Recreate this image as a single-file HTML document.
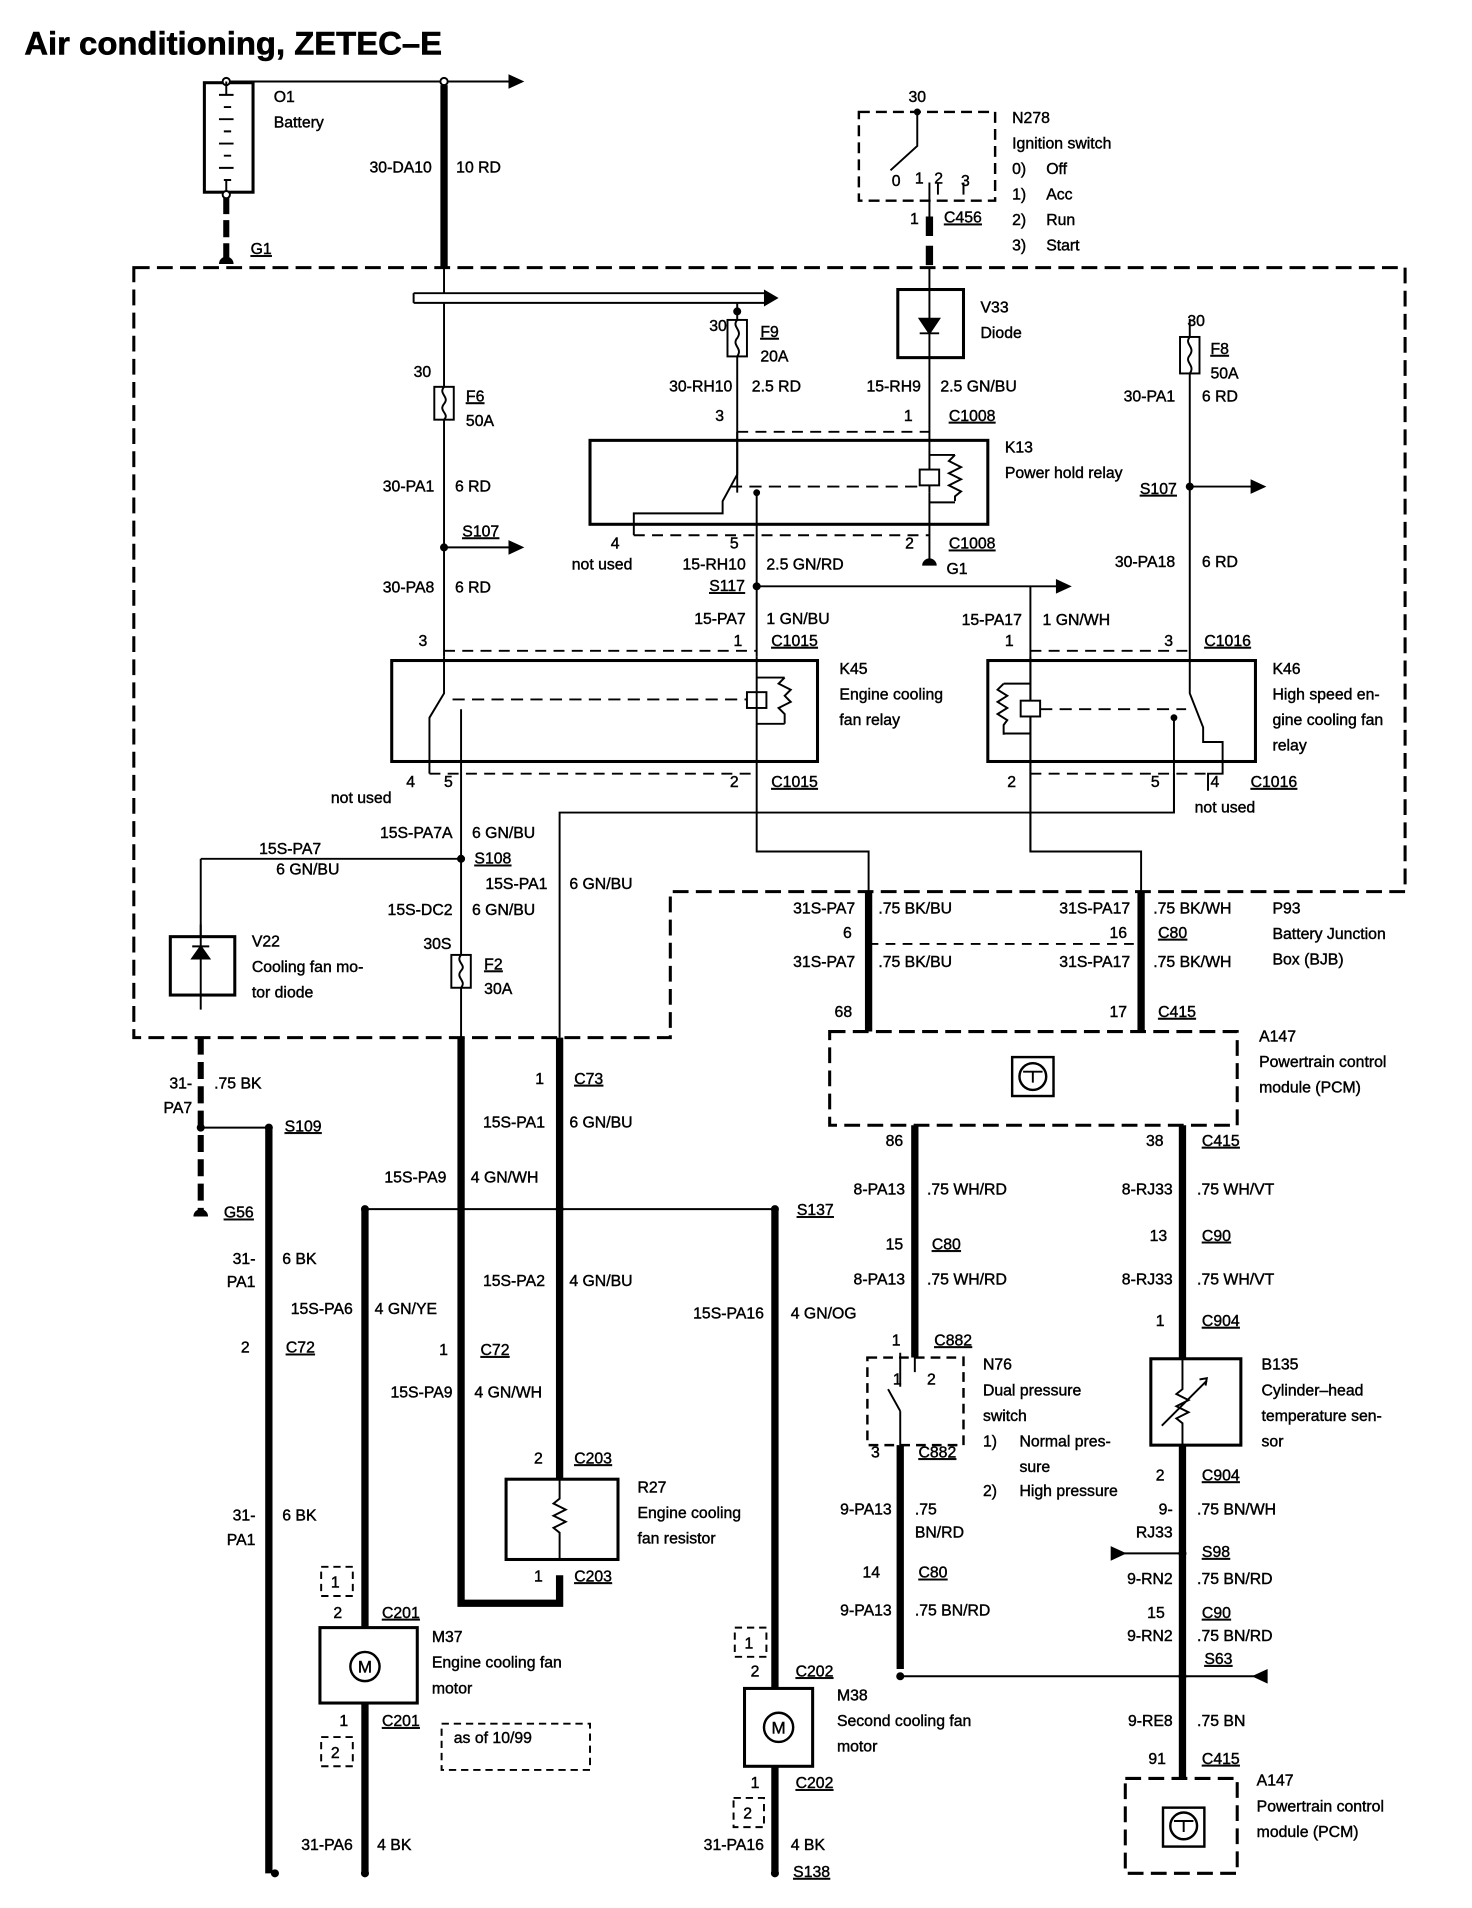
<!DOCTYPE html>
<html><head><meta charset="utf-8"><style>
html,body{margin:0;padding:0;background:#fff;}
svg{display:block}
text{font-family:"Liberation Sans",sans-serif;font-size:13px;fill:#000;stroke:#000;stroke-width:0.35}
.e{text-anchor:end}
</style></head><body>
<svg width="1472" height="1908" viewBox="0 0 1210 1568.5" preserveAspectRatio="none" xmlns="http://www.w3.org/2000/svg">
<text x="20" y="45" style="font-size:27px;font-weight:bold;stroke-width:0.5">Air conditioning, ZETEC–E</text>

<g fill="none" stroke="#000" stroke-width="1.6">
<rect x="168" y="68" width="40" height="90" stroke-width="2.5"/>
<line x1="186" y1="67" x2="420" y2="67"/>
<circle cx="186" cy="67" r="3" fill="#fff"/>
<circle cx="365" cy="67" r="3" fill="#fff"/>
<path d="M180 78h12M184 88h6M180 98h12M184 108h6M180 118h12M184 128h6M180 138h12M184 148h6M186 67v11M186 148v10" />
<line x1="186" y1="162" x2="186" y2="212" stroke-width="5" stroke-dasharray="14 5"/>
<circle cx="186" cy="160" r="3" fill="#fff"/>
<line x1="365" y1="70" x2="365" y2="220" stroke-width="6"/>
<path d="M110 220H1155V733H551V853H110Z" stroke-width="2.5" stroke-dasharray="13 6"/>
<path d="M340 241H630M340 249H630M340 241V249" stroke-width="1.6"/>
<line x1="365" y1="220" x2="365" y2="241"/>
<line x1="365" y1="249" x2="365" y2="540"/>
<rect x="357" y="318" width="16" height="27" fill="#fff"/>
<path d="M365 318c-5 6 5 8 0 14c-5 6 5 8 0 13"/>
<line x1="365" y1="450" x2="420" y2="450"/>
<circle cx="365" cy="450" r="2.5" fill="#000"/>
<line x1="606" y1="249" x2="606" y2="405"/>
<rect x="598" y="263" width="16" height="30" fill="#fff"/>
<path d="M606 263c-5 6 5 8 0 15c-5 6 5 8 0 15"/>
<circle cx="606" cy="256" r="2.5" fill="#000"/>
<rect x="706" y="92" width="112" height="73" stroke-dasharray="9 5" stroke-width="2"/>
<path d="M754 90V120L732 140"/>
<circle cx="754" cy="92" r="2" fill="#000"/>
<path d="M764 150V178M771 150V160M792 150V160" />
<line x1="764" y1="178" x2="764" y2="220" stroke-width="6" stroke-dasharray="16 8"/>
<line x1="764" y1="220" x2="764" y2="405"/>
<rect x="738" y="238" width="54" height="56" stroke-width="2.5" fill="#fff"/>
<line x1="764" y1="238" x2="764" y2="294"/>
<path d="M756 262h16l-8 12zM756 274h16" fill="#000"/>
<rect x="485" y="362" width="327" height="69" stroke-width="2.5"/>
<path d="M606 355h158" stroke-dasharray="9 6"/>
<path d="M606 355V390L594 412V422H521V440"/>
<path d="M521 440h243" stroke-dasharray="9 6"/>
<line x1="622" y1="405" x2="622" y2="540"/>
<circle cx="622" cy="405" r="2" fill="#000"/>
<path d="M600 400H756" stroke-dasharray="10 6"/>
<rect x="756" y="386" width="16" height="13" fill="#fff"/>
<path d="M764 374H785M764 413H785M785 374l-5 5l10 5l-10 5l10 5l-10 5l10 5l-5 4v4"/>
<line x1="764" y1="405" x2="764" y2="460"/>
<line x1="622" y1="482" x2="870" y2="482"/>
<circle cx="622" cy="482" r="2.5" fill="#000"/>
<line x1="847" y1="482" x2="847" y2="700"/>
<rect x="322" y="543" width="350" height="83" stroke-width="2.5"/>
<path d="M365 535H622M353 636H622" stroke-dasharray="9 6"/>
<path d="M365 540V570L353 590V636"/>
<line x1="379" y1="583" x2="379" y2="853"/>
<path d="M372 575H615" stroke-dasharray="10 6"/>
<rect x="614" y="569" width="16" height="13" fill="#fff"/>
<path d="M622 540V668M622 557H645M622 595H645M645 557l-5 5l10 5l-5 5l5 5l-10 5l5 5v8"/>
<path d="M622 668V700H714V733"/>
<rect x="812" y="543" width="220" height="83" stroke-width="2.5"/>
<path d="M847 535H978M847 636H993" stroke-dasharray="9 6"/>
<line x1="847" y1="540" x2="847" y2="636"/>
<path d="M847 562H825M847 603H825M825 562l-5 5l8 5l-8 5l8 5l-8 5l8 5l-3 4v8"/>
<rect x="839" y="576" width="16" height="13" fill="#fff"/>
<path d="M855 583H975" stroke-dasharray="10 6"/>
<path d="M978 262V540M978 540V570L989 598V610H1005V636H993V650"/>
<line x1="965" y1="590" x2="965" y2="668"/>
<circle cx="965" cy="590" r="2" fill="#000"/>
<rect x="970" y="277" width="16" height="30" fill="#fff"/>
<path d="M978 277c-5 6 5 8 0 15c-5 6 5 8 0 15"/>
<line x1="978" y1="400" x2="1030" y2="400"/>
<circle cx="978" cy="400" r="2.5" fill="#000"/>
<path d="M847 636V700H938V733"/>
<path d="M965 636V668H460V853"/>
<path d="M165 706H379M165 706V770"/>
<circle cx="379" cy="706" r="2.5" fill="#000"/>
<rect x="140" y="770" width="53" height="48" stroke-width="2.5"/>
<path d="M165 760V830M158 788h14l-7 -10zM158 778h14" fill="#000"/>
<rect x="371" y="785" width="16" height="27" fill="#fff"/>
<path d="M379 785c-5 6 5 8 0 13c-5 6 5 8 0 14"/>
<path d="M379 853V1318H460V1295" stroke-width="6"/>
<line x1="460" y1="853" x2="460" y2="1216" stroke-width="6"/>
<rect x="416" y="1216" width="92" height="66" stroke-width="2.5" fill="#fff"/>
<path d="M460 1216V1232l-5 4l10 5l-10 5l10 5l-10 5l5 4V1282"/>
<line x1="165" y1="853" x2="165" y2="995" stroke-width="5" stroke-dasharray="14 6"/>
<line x1="165" y1="927" x2="221" y2="927"/>
<circle cx="165" cy="927" r="2.5" fill="#000"/>
<circle cx="221" cy="927" r="2.5" fill="#000"/>
<line x1="221" y1="927" x2="221" y2="1540" stroke-width="6"/>
<line x1="300" y1="994" x2="637" y2="994"/>
<circle cx="300" cy="994" r="2.5" fill="#000"/>
<circle cx="460" cy="994" r="2.5" fill="#000"/>
<circle cx="637" cy="994" r="2.5" fill="#000"/>
<line x1="300" y1="994" x2="300" y2="1540" stroke-width="6"/>
<line x1="637" y1="994" x2="637" y2="1540" stroke-width="6"/>
<circle cx="226" cy="1540" r="2.5" fill="#000"/>
<circle cx="300" cy="1540" r="2.5" fill="#000"/>
<circle cx="637" cy="1540" r="2.5" fill="#000"/>
<rect x="263" y="1338" width="80" height="62" stroke-width="2.5" fill="#fff"/>
<circle cx="300" cy="1370" r="12" stroke-width="2"/>
<rect x="612" y="1388" width="56" height="64" stroke-width="2.5" fill="#fff"/>
<circle cx="640" cy="1420" r="12" stroke-width="2"/>
<g stroke-dasharray="6 4">
<rect x="264" y="1288" width="26" height="24"/>
<rect x="264" y="1428" width="26" height="24"/>
<rect x="604" y="1338" width="26" height="24"/>
<rect x="603" y="1478" width="25" height="24"/>
<rect x="363" y="1417" width="122" height="38"/>
</g>
<line x1="714" y1="733" x2="714" y2="848" stroke-width="6"/>
<line x1="938" y1="733" x2="938" y2="848" stroke-width="6"/>
<line x1="714" y1="776" x2="938" y2="776" stroke-dasharray="8 6"/>
<rect x="682" y="848" width="335" height="77" stroke-width="2.5" stroke-dasharray="13 6"/>
<rect x="832" y="869" width="34" height="32" stroke-width="2"/>
<circle cx="849" cy="885" r="11" stroke-width="2"/>
<path d="M841 881h16M849 881v9"/>
<line x1="752" y1="925" x2="752" y2="1116" stroke-width="6"/>
<line x1="972" y1="925" x2="972" y2="1117" stroke-width="6"/>
<rect x="713" y="1116" width="79" height="72" stroke-dasharray="8 5" stroke-width="2"/>
<path d="M740 1112V1140M740 1160L730 1142M740 1160V1188M752 1116V1128"/>
<line x1="740" y1="1188" x2="740" y2="1372" stroke-width="6"/>
<rect x="946" y="1117" width="74" height="71" stroke-width="2.5"/>
<path d="M972 1117V1142l-5 4l10 5l-10 5l10 5l-10 5l5 4V1188M955 1172L992 1135"/>
<path d="M986 1134l6 -1l-1 6" />
<line x1="972" y1="1188" x2="972" y2="1462" stroke-width="6"/>
<line x1="740" y1="1378" x2="1035" y2="1378"/>
<circle cx="740" cy="1378" r="2.5" fill="#000"/>
<circle cx="972" cy="1378" r="2.5" fill="#000"/>
<line x1="920" y1="1277" x2="972" y2="1277"/>
<circle cx="972" cy="1277" r="2.5" fill="#000"/>
<rect x="925" y="1462" width="92" height="78" stroke-width="2.5" stroke-dasharray="13 6"/>
<rect x="956" y="1486" width="34" height="32" stroke-width="2"/>
<circle cx="973" cy="1501" r="11" stroke-width="2"/>
<path d="M965 1497h16M973 1497v9"/>
</g>
<g fill="#000">
<path d="M418 61L431 67L418 73Z"/>
<path d="M628 238L640 245L628 252Z"/>
<path d="M418 444L431 450L418 456Z"/>
<path d="M868 476L881 482L868 488Z"/>
<path d="M1028 394L1041 400L1028 406Z"/>
<path d="M913 1271L926 1277L913 1283Z"/>
<path d="M1042 1372L1029 1378L1042 1384Z"/>
<path d="M180 217a6 6 0 0 1 12 0Z"/>
<path d="M758 465a6 6 0 0 1 12 0Z"/>
<path d="M159 1000a6 6 0 0 1 12 0Z"/>
</g>

<text x="225" y="84">O1</text><text x="225" y="105">Battery</text>
<text x="206" y="209" style="text-decoration:underline">G1</text>
<text x="355" y="142" class="e">30-DA10</text><text x="375" y="142">10 RD</text>
<text x="754" y="84" style="text-anchor:middle">30</text>
<text x="733" y="153">0</text><text x="752" y="151">1</text><text x="768" y="151">2</text><text x="790" y="153">3</text>
<text x="832" y="101">N278</text><text x="832" y="122">Ignition switch</text>
<text x="832" y="143">0)</text><text x="860" y="143">Off</text>
<text x="832" y="164">1)</text><text x="860" y="164">Acc</text>
<text x="832" y="185">2)</text><text x="860" y="185">Run</text>
<text x="832" y="206">3)</text><text x="860" y="206">Start</text>
<text x="748" y="184">1</text><text x="776" y="183" style="text-decoration:underline">C456</text>
<text x="806" y="257">V33</text><text x="806" y="278">Diode</text>
<text x="583" y="272">30</text><text x="625" y="277" style="text-decoration:underline">F9</text><text x="625" y="297">20A</text>
<text x="340" y="310">30</text><text x="383" y="330" style="text-decoration:underline">F6</text><text x="383" y="350">50A</text>
<text x="602" y="322" class="e">30-RH10</text><text x="618" y="322">2.5 RD</text>
<text x="757" y="322" class="e">15-RH9</text><text x="773" y="322">2.5 GN/BU</text>
<text x="588" y="346">3</text><text x="743" y="346">1</text><text x="780" y="346" style="text-decoration:underline">C1008</text>
<text x="826" y="372">K13</text><text x="826" y="393">Power hold relay</text>
<text x="357" y="404" class="e">30-PA1</text><text x="374" y="404">6 RD</text>
<text x="380" y="441" style="text-decoration:underline">S107</text>
<text x="502" y="451">4</text><text x="470" y="468">not used</text>
<text x="600" y="451">5</text><text x="744" y="451">2</text><text x="780" y="451" style="text-decoration:underline">C1008</text>
<text x="778" y="472">G1</text>
<text x="613" y="468" class="e">15-RH10</text><text x="630" y="468">2.5 GN/RD</text>
<text x="583" y="486" style="text-decoration:underline">S117</text>
<text x="357" y="487" class="e">30-PA8</text><text x="374" y="487">6 RD</text>
<text x="613" y="513" class="e">15-PA7</text><text x="630" y="513">1 GN/BU</text>
<text x="344" y="531">3</text><text x="603" y="531">1</text><text x="634" y="531" style="text-decoration:underline">C1015</text>
<text x="840" y="514" class="e">15-PA17</text><text x="857" y="514">1 GN/WH</text>
<text x="826" y="531">1</text><text x="957" y="531">3</text><text x="990" y="531" style="text-decoration:underline">C1016</text>
<text x="976" y="268">30</text><text x="995" y="291" style="text-decoration:underline">F8</text><text x="995" y="311">50A</text>
<text x="966" y="330" class="e">30-PA1</text><text x="988" y="330">6 RD</text>
<text x="937" y="406" style="text-decoration:underline">S107</text>
<text x="966" y="466" class="e">30-PA18</text><text x="988" y="466">6 RD</text>
<text x="690" y="554">K45</text><text x="690" y="575">Engine cooling</text><text x="690" y="596">fan relay</text>
<text x="1046" y="554">K46</text><text x="1046" y="575">High speed en-</text><text x="1046" y="596">gine cooling fan</text><text x="1046" y="617">relay</text>
<text x="334" y="647">4</text><text x="365" y="647">5</text><text x="600" y="647">2</text><text x="634" y="647" style="text-decoration:underline">C1015</text>
<text x="272" y="660">not used</text>
<text x="828" y="647">2</text><text x="946" y="647">5</text><text x="995" y="647">4</text><text x="1028" y="647" style="text-decoration:underline">C1016</text>
<text x="982" y="668">not used</text>
<text x="372" y="689" class="e">15S-PA7A</text><text x="388" y="689">6 GN/BU</text>
<text x="213" y="702">15S-PA7</text><text x="227" y="719">6 GN/BU</text>
<text x="390" y="710" style="text-decoration:underline">S108</text>
<text x="450" y="731" class="e">15S-PA1</text><text x="468" y="731">6 GN/BU</text>
<text x="372" y="752" class="e">15S-DC2</text><text x="388" y="752">6 GN/BU</text>
<text x="348" y="780">30S</text><text x="398" y="797" style="text-decoration:underline">F2</text><text x="398" y="817">30A</text>
<text x="207" y="778">V22</text><text x="207" y="799">Cooling fan mo-</text><text x="207" y="820">tor diode</text>
<text x="703" y="751" class="e">31S-PA7</text><text x="722" y="751">.75 BK/BU</text>
<text x="929" y="751" class="e">31S-PA17</text><text x="948" y="751">.75 BK/WH</text>
<text x="1046" y="751">P93</text><text x="1046" y="772">Battery Junction</text><text x="1046" y="793">Box (BJB)</text>
<text x="693" y="771">6</text><text x="912" y="771">16</text><text x="952" y="771" style="text-decoration:underline">C80</text>
<text x="703" y="795" class="e">31S-PA7</text><text x="722" y="795">.75 BK/BU</text>
<text x="929" y="795" class="e">31S-PA17</text><text x="948" y="795">.75 BK/WH</text>
<text x="686" y="836">68</text><text x="912" y="836">17</text><text x="952" y="836" style="text-decoration:underline">C415</text>
<text x="1035" y="856">A147</text><text x="1035" y="877">Powertrain control</text><text x="1035" y="898">module (PCM)</text>
<text x="158" y="895" class="e">31-</text><text x="158" y="915" class="e">PA7</text><text x="176" y="895">.75 BK</text>
<text x="234" y="930" style="text-decoration:underline">S109</text>
<text x="440" y="891">1</text><text x="472" y="891" style="text-decoration:underline">C73</text>
<text x="448" y="927" class="e">15S-PA1</text><text x="468" y="927">6 GN/BU</text>
<text x="728" y="942">86</text><text x="942" y="942">38</text><text x="988" y="942" style="text-decoration:underline">C415</text>
<text x="367" y="972" class="e">15S-PA9</text><text x="387" y="972">4 GN/WH</text>
<text x="744" y="982" class="e">8-PA13</text><text x="762" y="982">.75 WH/RD</text>
<text x="964" y="982" class="e">8-RJ33</text><text x="984" y="982">.75 WH/VT</text>
<text x="184" y="1001" style="text-decoration:underline">G56</text>
<text x="655" y="999" style="text-decoration:underline">S137</text>
<text x="945" y="1020">13</text><text x="988" y="1020" style="text-decoration:underline">C90</text>
<text x="728" y="1027">15</text><text x="766" y="1027" style="text-decoration:underline">C80</text>
<text x="210" y="1039" class="e">31-</text><text x="210" y="1058" class="e">PA1</text><text x="232" y="1039">6 BK</text>
<text x="448" y="1057" class="e">15S-PA2</text><text x="468" y="1057">4 GN/BU</text>
<text x="744" y="1056" class="e">8-PA13</text><text x="762" y="1056">.75 WH/RD</text>
<text x="964" y="1056" class="e">8-RJ33</text><text x="984" y="1056">.75 WH/VT</text>
<text x="290" y="1080" class="e">15S-PA6</text><text x="308" y="1080">4 GN/YE</text>
<text x="628" y="1084" class="e">15S-PA16</text><text x="650" y="1084">4 GN/OG</text>
<text x="950" y="1090">1</text><text x="988" y="1090" style="text-decoration:underline">C904</text>
<text x="733" y="1106">1</text><text x="768" y="1106" style="text-decoration:underline">C882</text>
<text x="198" y="1112">2</text><text x="235" y="1112" style="text-decoration:underline">C72</text>
<text x="361" y="1114">1</text><text x="395" y="1114" style="text-decoration:underline">C72</text>
<text x="734" y="1138">1</text><text x="762" y="1138">2</text>
<text x="808" y="1126">N76</text><text x="808" y="1147">Dual pressure</text><text x="808" y="1168">switch</text>
<text x="808" y="1189">1)</text><text x="838" y="1189">Normal pres-</text><text x="838" y="1210">sure</text>
<text x="808" y="1230">2)</text><text x="838" y="1230">High pressure</text>
<text x="1037" y="1126">B135</text><text x="1037" y="1147">Cylinder–head</text><text x="1037" y="1168">temperature sen-</text><text x="1037" y="1189">sor</text>
<text x="372" y="1149" class="e">15S-PA9</text><text x="390" y="1149">4 GN/WH</text>
<text x="716" y="1198">3</text><text x="755" y="1198" style="text-decoration:underline">C882</text>
<text x="439" y="1203">2</text><text x="472" y="1203" style="text-decoration:underline">C203</text>
<text x="950" y="1217">2</text><text x="988" y="1217" style="text-decoration:underline">C904</text>
<text x="524" y="1227">R27</text><text x="524" y="1248">Engine cooling</text><text x="524" y="1269">fan resistor</text>
<text x="733" y="1245" class="e">9-PA13</text><text x="752" y="1245">.75</text><text x="752" y="1264">BN/RD</text>
<text x="964" y="1245" class="e">9-</text><text x="964" y="1264" class="e">RJ33</text><text x="984" y="1245">.75 BN/WH</text>
<text x="210" y="1250" class="e">31-</text><text x="210" y="1270" class="e">PA1</text><text x="232" y="1250">6 BK</text>
<text x="988" y="1280" style="text-decoration:underline">S98</text>
<text x="709" y="1297">14</text><text x="755" y="1297" style="text-decoration:underline">C80</text>
<text x="439" y="1300">1</text><text x="472" y="1300" style="text-decoration:underline">C203</text>
<text x="964" y="1302" class="e">9-RN2</text><text x="984" y="1302">.75 BN/RD</text>
<text x="272" y="1305">1</text>
<text x="733" y="1328" class="e">9-PA13</text><text x="752" y="1328">.75 BN/RD</text>
<text x="274" y="1330">2</text><text x="314" y="1330" style="text-decoration:underline">C201</text>
<text x="943" y="1330">15</text><text x="988" y="1330" style="text-decoration:underline">C90</text>
<text x="964" y="1349" class="e">9-RN2</text><text x="984" y="1349">.75 BN/RD</text>
<text x="355" y="1350">M37</text><text x="355" y="1371">Engine cooling fan</text><text x="355" y="1392">motor</text>
<text x="612" y="1355">1</text>
<text x="990" y="1368" style="text-decoration:underline">S63</text>
<text x="617" y="1378">2</text><text x="654" y="1378" style="text-decoration:underline">C202</text>
<text x="300" y="1375" style="font-size:14px;text-anchor:middle">M</text>
<text x="640" y="1425" style="font-size:14px;text-anchor:middle">M</text>
<text x="688" y="1398">M38</text><text x="688" y="1419">Second cooling fan</text><text x="688" y="1440">motor</text>
<text x="964" y="1419" class="e">9-RE8</text><text x="984" y="1419">.75 BN</text>
<text x="279" y="1419">1</text><text x="314" y="1419" style="text-decoration:underline">C201</text>
<text x="373" y="1433">as of 10/99</text>
<text x="272" y="1445">2</text>
<text x="944" y="1450">91</text><text x="988" y="1450" style="text-decoration:underline">C415</text>
<text x="617" y="1470">1</text><text x="654" y="1470" style="text-decoration:underline">C202</text>
<text x="1033" y="1468">A147</text><text x="1033" y="1489">Powertrain control</text><text x="1033" y="1510">module (PCM)</text>
<text x="611" y="1495">2</text>
<text x="290" y="1521" class="e">31-PA6</text><text x="310" y="1521">4 BK</text>
<text x="628" y="1521" class="e">31-PA16</text><text x="650" y="1521">4 BK</text>
<text x="652" y="1543" style="text-decoration:underline">S138</text>
</svg>
</body></html>
